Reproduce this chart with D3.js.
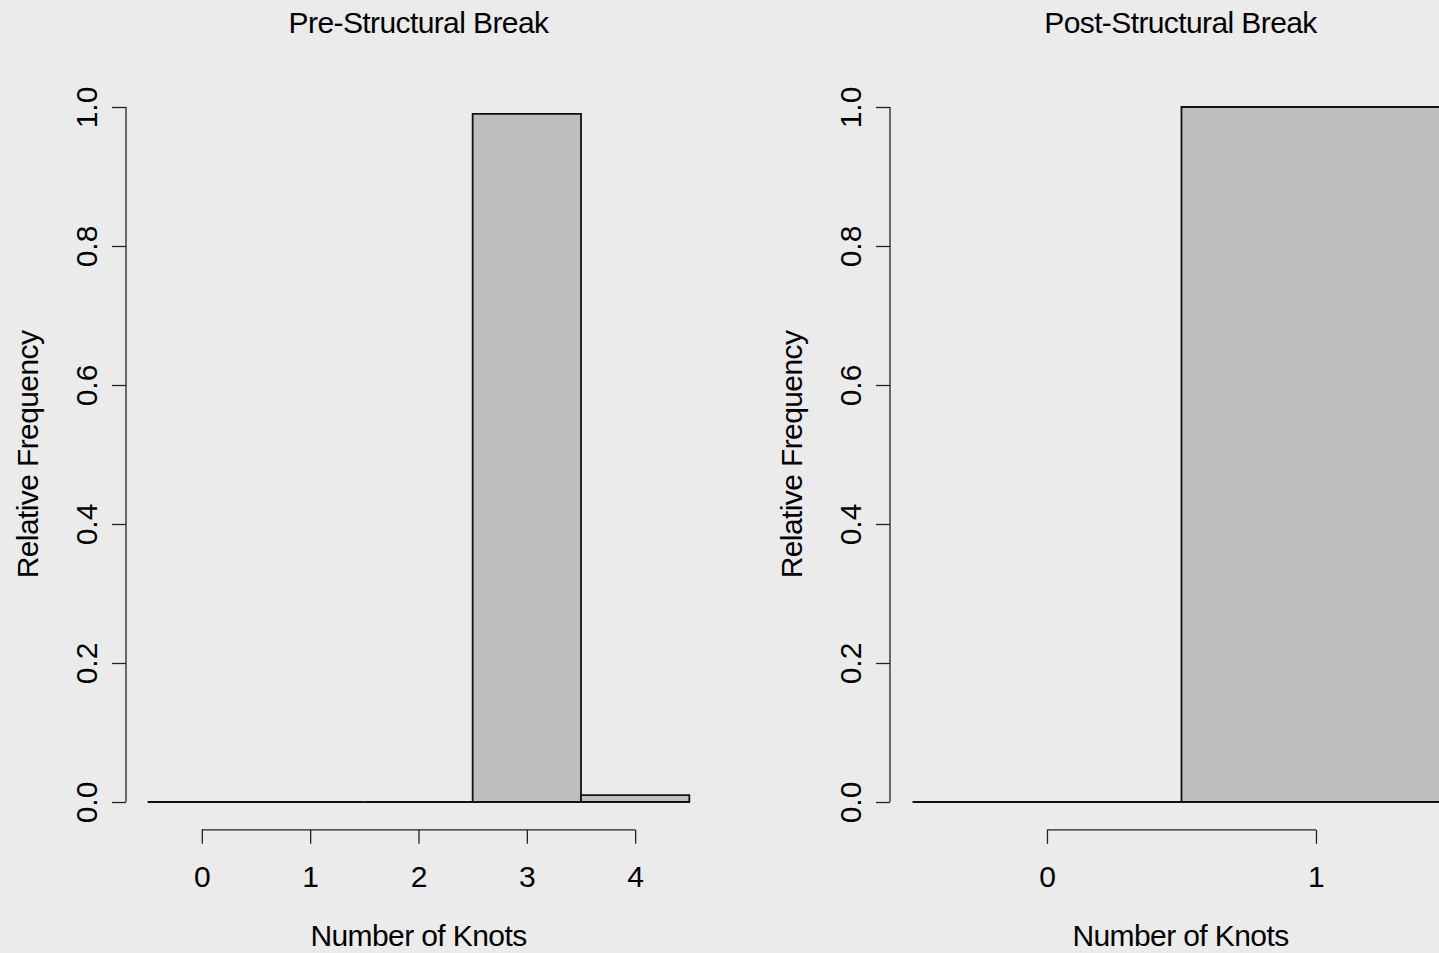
<!DOCTYPE html>
<html>
<head>
<meta charset="utf-8">
<script src="https://cdn.jsdelivr.net/npm/d3@7"></script>
<style>
  html, body { margin: 0; padding: 0; background: #ebebeb; overflow: hidden; }
  svg { display: block; }
  text { font-family: "Liberation Sans", Arial, sans-serif; fill: #000; }
</style>
</head>
<body>
<svg id="chart" width="1439" height="953"></svg>
<script>
// ---- data ----
const titles = ["Pre-Structural Break", "Post-Structural Break"];
const preKnots = [0, 1, 2, 3, 4];
const preFreq = [0, 0, 0, 0.99, 0.01];
const postKnots = [0, 1];
const postFreq = [0, 1.0];
const yTicks = [0, 0.2, 0.4, 0.6, 0.8, 1.0];
const xLabel = "Number of Knots";
const yLabel = "Relative Frequency";

const svg = d3.select("#chart");
svg.append("rect").attr("width", 1439).attr("height", 953).attr("fill", "#ebebeb");

const FS = 30;
const y = d3.scaleLinear().domain([0, 1]).range([802, 107]);

const panels = [
  { title: titles[0], knots: preKnots, freq: preFreq,
    x: d3.scaleLinear().domain([-0.7, 4.7]).range([126, 711]) },
  { title: titles[1], knots: postKnots, freq: postFreq,
    x: d3.scaleLinear().domain([-0.5836, 1.5764]).range([890, 1471]) }
];

panels.forEach(p => {
  const x = p.x;
  const g = svg.append("g");
  const [xl, xr] = x.range();
  const cx = (xl + xr) / 2;

  // bars
  g.selectAll("path.bar").data(p.knots.map((k, i) => ({ k, v: p.freq[i] })))
    .enter().append("path")
    .attr("class", "bar")
    .attr("d", d => {
      const x0 = x(d.k - 0.5), x1 = x(d.k + 0.5), y0 = y(0), y1 = y(d.v);
      return `M${x0},${y0}H${x1}V${y1}H${x0}Z`;
    })
    .attr("fill", "#bebebe")
    .attr("stroke", "#111")
    .attr("stroke-width", 1.8);

  // x axis
  const xAxisY = y(-0.04);
  const xa = g.append("g").attr("transform", `translate(0,${xAxisY})`)
    .call(d3.axisBottom(x).tickValues(p.knots).tickFormat(d3.format("d"))
      .tickSize(14).tickSizeOuter(0));
  xa.select(".domain").attr("d", `M${x(p.knots[0])},0H${x(p.knots[p.knots.length - 1])}`)
    .attr("stroke", "#222").attr("stroke-width", 1.3);
  xa.selectAll(".tick line").attr("stroke", "#222").attr("stroke-width", 1.3);
  xa.selectAll(".tick text").attr("y", 57).attr("dy", null)
    .style("font-size", FS + "px").attr("fill", "#000");

  // y axis
  const ya = g.append("g").attr("transform", `translate(${xl},0)`)
    .call(d3.axisLeft(y).tickValues(yTicks).tickFormat(d3.format(".1f"))
      .tickSize(14).tickSizeOuter(0));
  ya.select(".domain").attr("d", `M0,${y(0)}V${y(1)}`)
    .attr("stroke", "#222").attr("stroke-width", 1.3);
  ya.selectAll(".tick line").attr("stroke", "#222").attr("stroke-width", 1.3);
  ya.selectAll(".tick text")
    .attr("x", 0).attr("y", -29).attr("dy", null)
    .attr("transform", "rotate(-90)")
    .attr("text-anchor", "middle")
    .style("font-size", FS + "px").attr("fill", "#000");

  // title
  g.append("text").attr("x", cx).attr("y", 33)
    .attr("text-anchor", "middle").style("font-size", FS + "px")
    .style("letter-spacing", "-0.6px")
    .text(p.title);

  // x label
  g.append("text").attr("x", cx).attr("y", 946)
    .attr("text-anchor", "middle").style("font-size", FS + "px")
    .style("letter-spacing", "-0.6px")
    .text(xLabel);

  // y label
  g.append("text")
    .attr("transform", `translate(${xl - 88},${(y(0) + y(1)) / 2}) rotate(-90)`)
    .attr("text-anchor", "middle").style("font-size", FS + "px")
    .style("letter-spacing", "-0.6px")
    .text(yLabel);
});
</script>
</body>
</html>
